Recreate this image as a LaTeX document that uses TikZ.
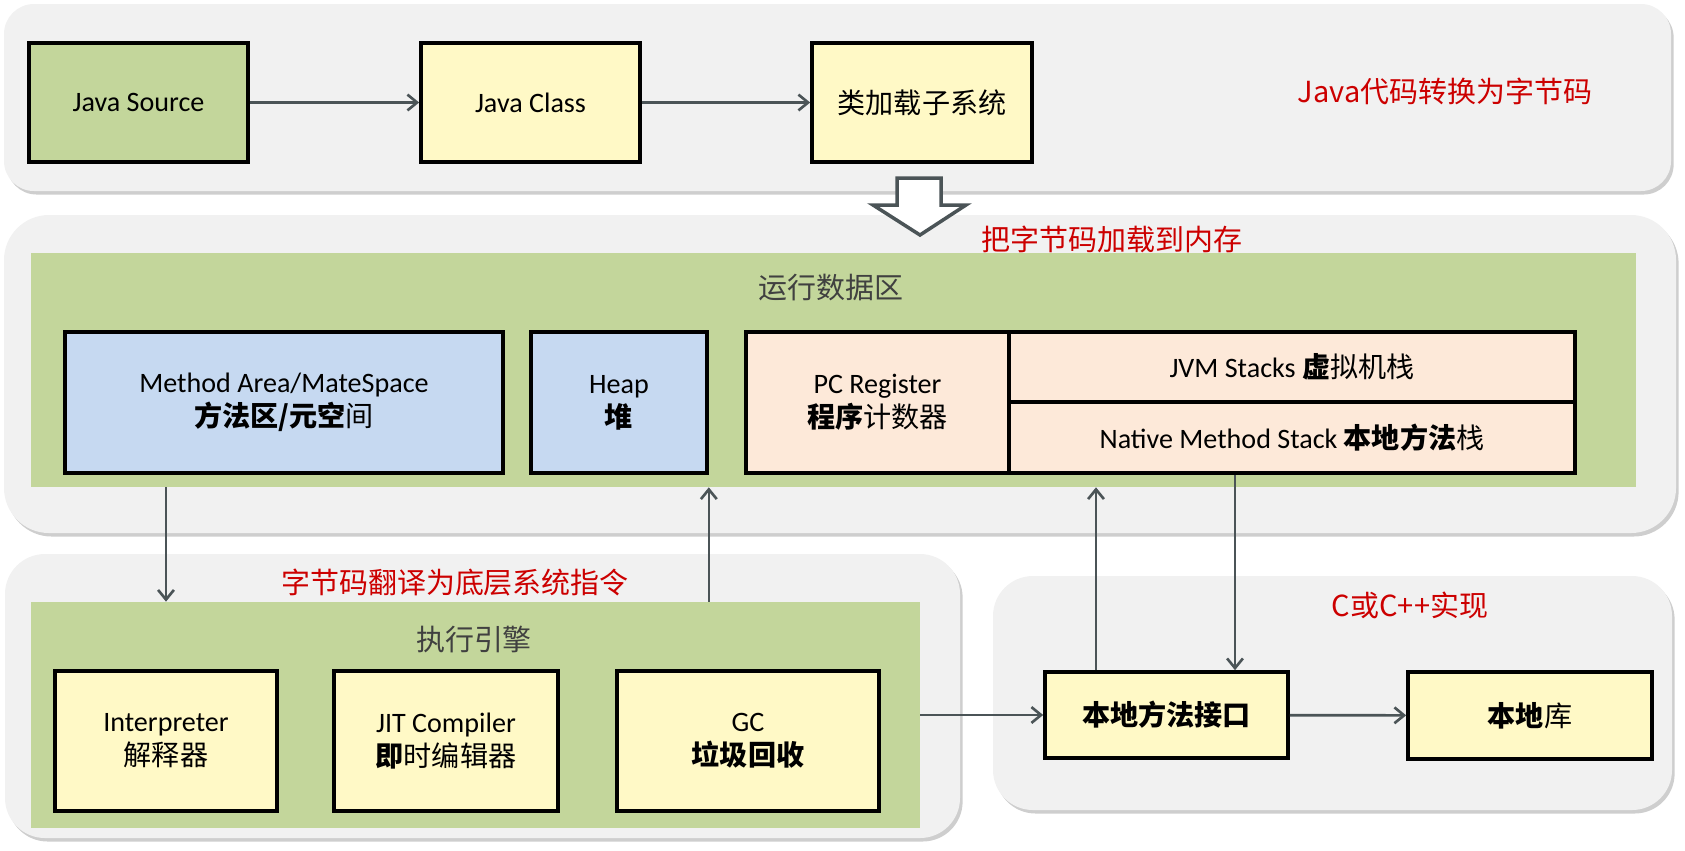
\documentclass[tikz,border=0pt]{standalone}
\usepackage{fontspec}
\setmainfont{Carlito}
\newfontfamily\cjk{Noto Sans CJK SC}
\usetikzlibrary{arrows.meta, positioning, shadows}
\definecolor{panelGray}{HTML}{F1F1F1}
\definecolor{areaGreen}{HTML}{C3D69B}
\definecolor{boxYellow}{HTML}{FFF9C6}
\definecolor{boxBlue}{HTML}{C6D9F1}
\definecolor{boxPeach}{HTML}{FDE9D9}
\definecolor{noteRed}{HTML}{CC0000}
\definecolor{lineGray}{HTML}{4B5457}
\definecolor{titleGray}{HTML}{404040}

\begin{document}
\begin{tikzpicture}[x=0.02cm, y=-0.02cm,
    panel/.style={fill=panelGray, drop shadow={shadow xshift=1.5pt, shadow yshift=-2pt, opacity=0.35, fill=black!55}},
    area/.style={fill=areaGreen, inner sep=0pt},
    box/.style={draw=black, line width=2.1pt, align=center, inner sep=0pt, font=\fontsize{16}{19.5}\selectfont},
    note/.style={text=noteRed, font=\cjk\fontsize{16.5}{20}\selectfont},
    title/.style={text=titleGray, font=\cjk\fontsize{16.5}{20}\selectfont},
    flow/.style={draw=lineGray, line width=1.5pt, -{Straight Barb[length=5.5pt, width=9pt, line width=1.5pt]}}]
  \useasboundingbox (0,0) rectangle (1685,850);

  % panels
  \path[panel, rounded corners=0.6cm] (4,4) rectangle (1671,191);
  \path[panel, rounded corners=0.9cm] (4,215) rectangle (1676,533);
  \path[panel, rounded corners=0.8cm] (5,554) rectangle (960,838);
  \path[panel, rounded corners=0.8cm] (993,576) rectangle (1672,810);

  \node[area, minimum width=32.1cm, minimum height=4.68cm] (rda) at (833.5,370) {};
  \node[area, minimum width=17.78cm, minimum height=4.52cm] (exe) at (475.5,715) {};

  \draw[lineGray, line width=2pt, fill=white, line join=miter]
    (897,178) -- (941,178) -- (941,205) -- (966,205) -- (920,235) -- (873,205) -- (897,205) -- cycle;

  % top row
  \node[box, fill=areaGreen, minimum width=4.38cm, minimum height=2.38cm] (src) at (138.5,102.5) {Java Source};
  \node[box, fill=boxYellow, minimum width=4.38cm, minimum height=2.38cm] (cls) at (530.5,102.5) {Java Class};
  \node[box, fill=boxYellow, minimum width=4.4cm, minimum height=2.38cm] (loader) at (922,102.5) {\cjk 类加载子系统};

  % runtime data area
  \node[box, fill=boxBlue, minimum width=8.76cm, minimum height=2.82cm] (method) at (284,402.5)
    {Method Area/MateSpace\\{\cjk\bfseries 方法区/元空}{\cjk 间}};
  \node[box, fill=boxBlue, minimum width=3.52cm, minimum height=2.82cm] (heap) at (619,402.5)
    {Heap\\{\cjk\bfseries 堆}};
  \node[box, fill=boxPeach, minimum width=5.26cm, minimum height=2.82cm] (pc) at (877.5,402.5)
    {PC Register\\{\cjk\bfseries 程序}{\cjk 计数器}};
  \node[box, fill=boxPeach, minimum width=11.32cm, minimum height=1.4cm] (jvm) at (1292,367)
    {JVM Stacks {\cjk\bfseries 虚}{\cjk 拟机栈}};
  \node[box, fill=boxPeach, minimum width=11.32cm, minimum height=1.42cm] (nms) at (1292,437.5)
    {Native Method Stack {\cjk\bfseries 本地方法}{\cjk 栈}};

  % execution engine
  \node[box, fill=boxYellow, minimum width=4.44cm, minimum height=2.8cm] (interp) at (166,741)
    {Interpreter\\{\cjk 解释器}};
  \node[box, fill=boxYellow, minimum width=4.48cm, minimum height=2.8cm] (jit) at (446,741)
    {JIT Compiler\\{\cjk\bfseries 即}{\cjk 时编辑器}};
  \node[box, fill=boxYellow, minimum width=5.24cm, minimum height=2.8cm] (gc) at (748,741)
    {GC\\{\cjk\bfseries 垃圾回收}};

  % native side
  \node[box, fill=boxYellow, minimum width=4.86cm, minimum height=1.72cm] (jni) at (1166.5,715)
    {\cjk\bfseries 本地方法接口};
  \node[box, fill=boxYellow, minimum width=4.88cm, minimum height=1.74cm] (lib) at (1530,715.5)
    {{\cjk\bfseries 本地}{\cjk 库}};

  \node[title] (rdaTitle) at (831,288) {运行数据区};
  \node[title] (exeTitle) at (474,639) {执行引擎};
  \node[note] (toBytecode) at (1445,91) {Java代码转换为字节码};
  \node[note] (toMemory) at (1112,239) {把字节码加载到内存};
  \node[note] (toNative) at (455,582) {字节码翻译为底层系统指令};
  \node[note] (inC) at (1410,605) {C或C++实现};

  % connectors
  \coordinate (jniUp) at (1096,672);
  \coordinate (nmsDown) at (1235,473);
  \draw[flow] (src) -- (cls);
  \draw[flow] (cls) -- (loader);
  \draw[flow] (rda.south -| interp) -- (exe.north -| interp);
  \draw[flow] (exe.north -| heap.east) -- (rda.south -| heap.east);
  \draw[flow] (jniUp |- jni.north) -- (jniUp |- rda.south);
  \draw[flow] (nmsDown |- nms.south) -- (nmsDown |- jni.north);
  \draw[flow] (exe.east |- jni) -- (jni);
  \draw[flow] (jni) -- (lib);
\end{tikzpicture}
\end{document}
